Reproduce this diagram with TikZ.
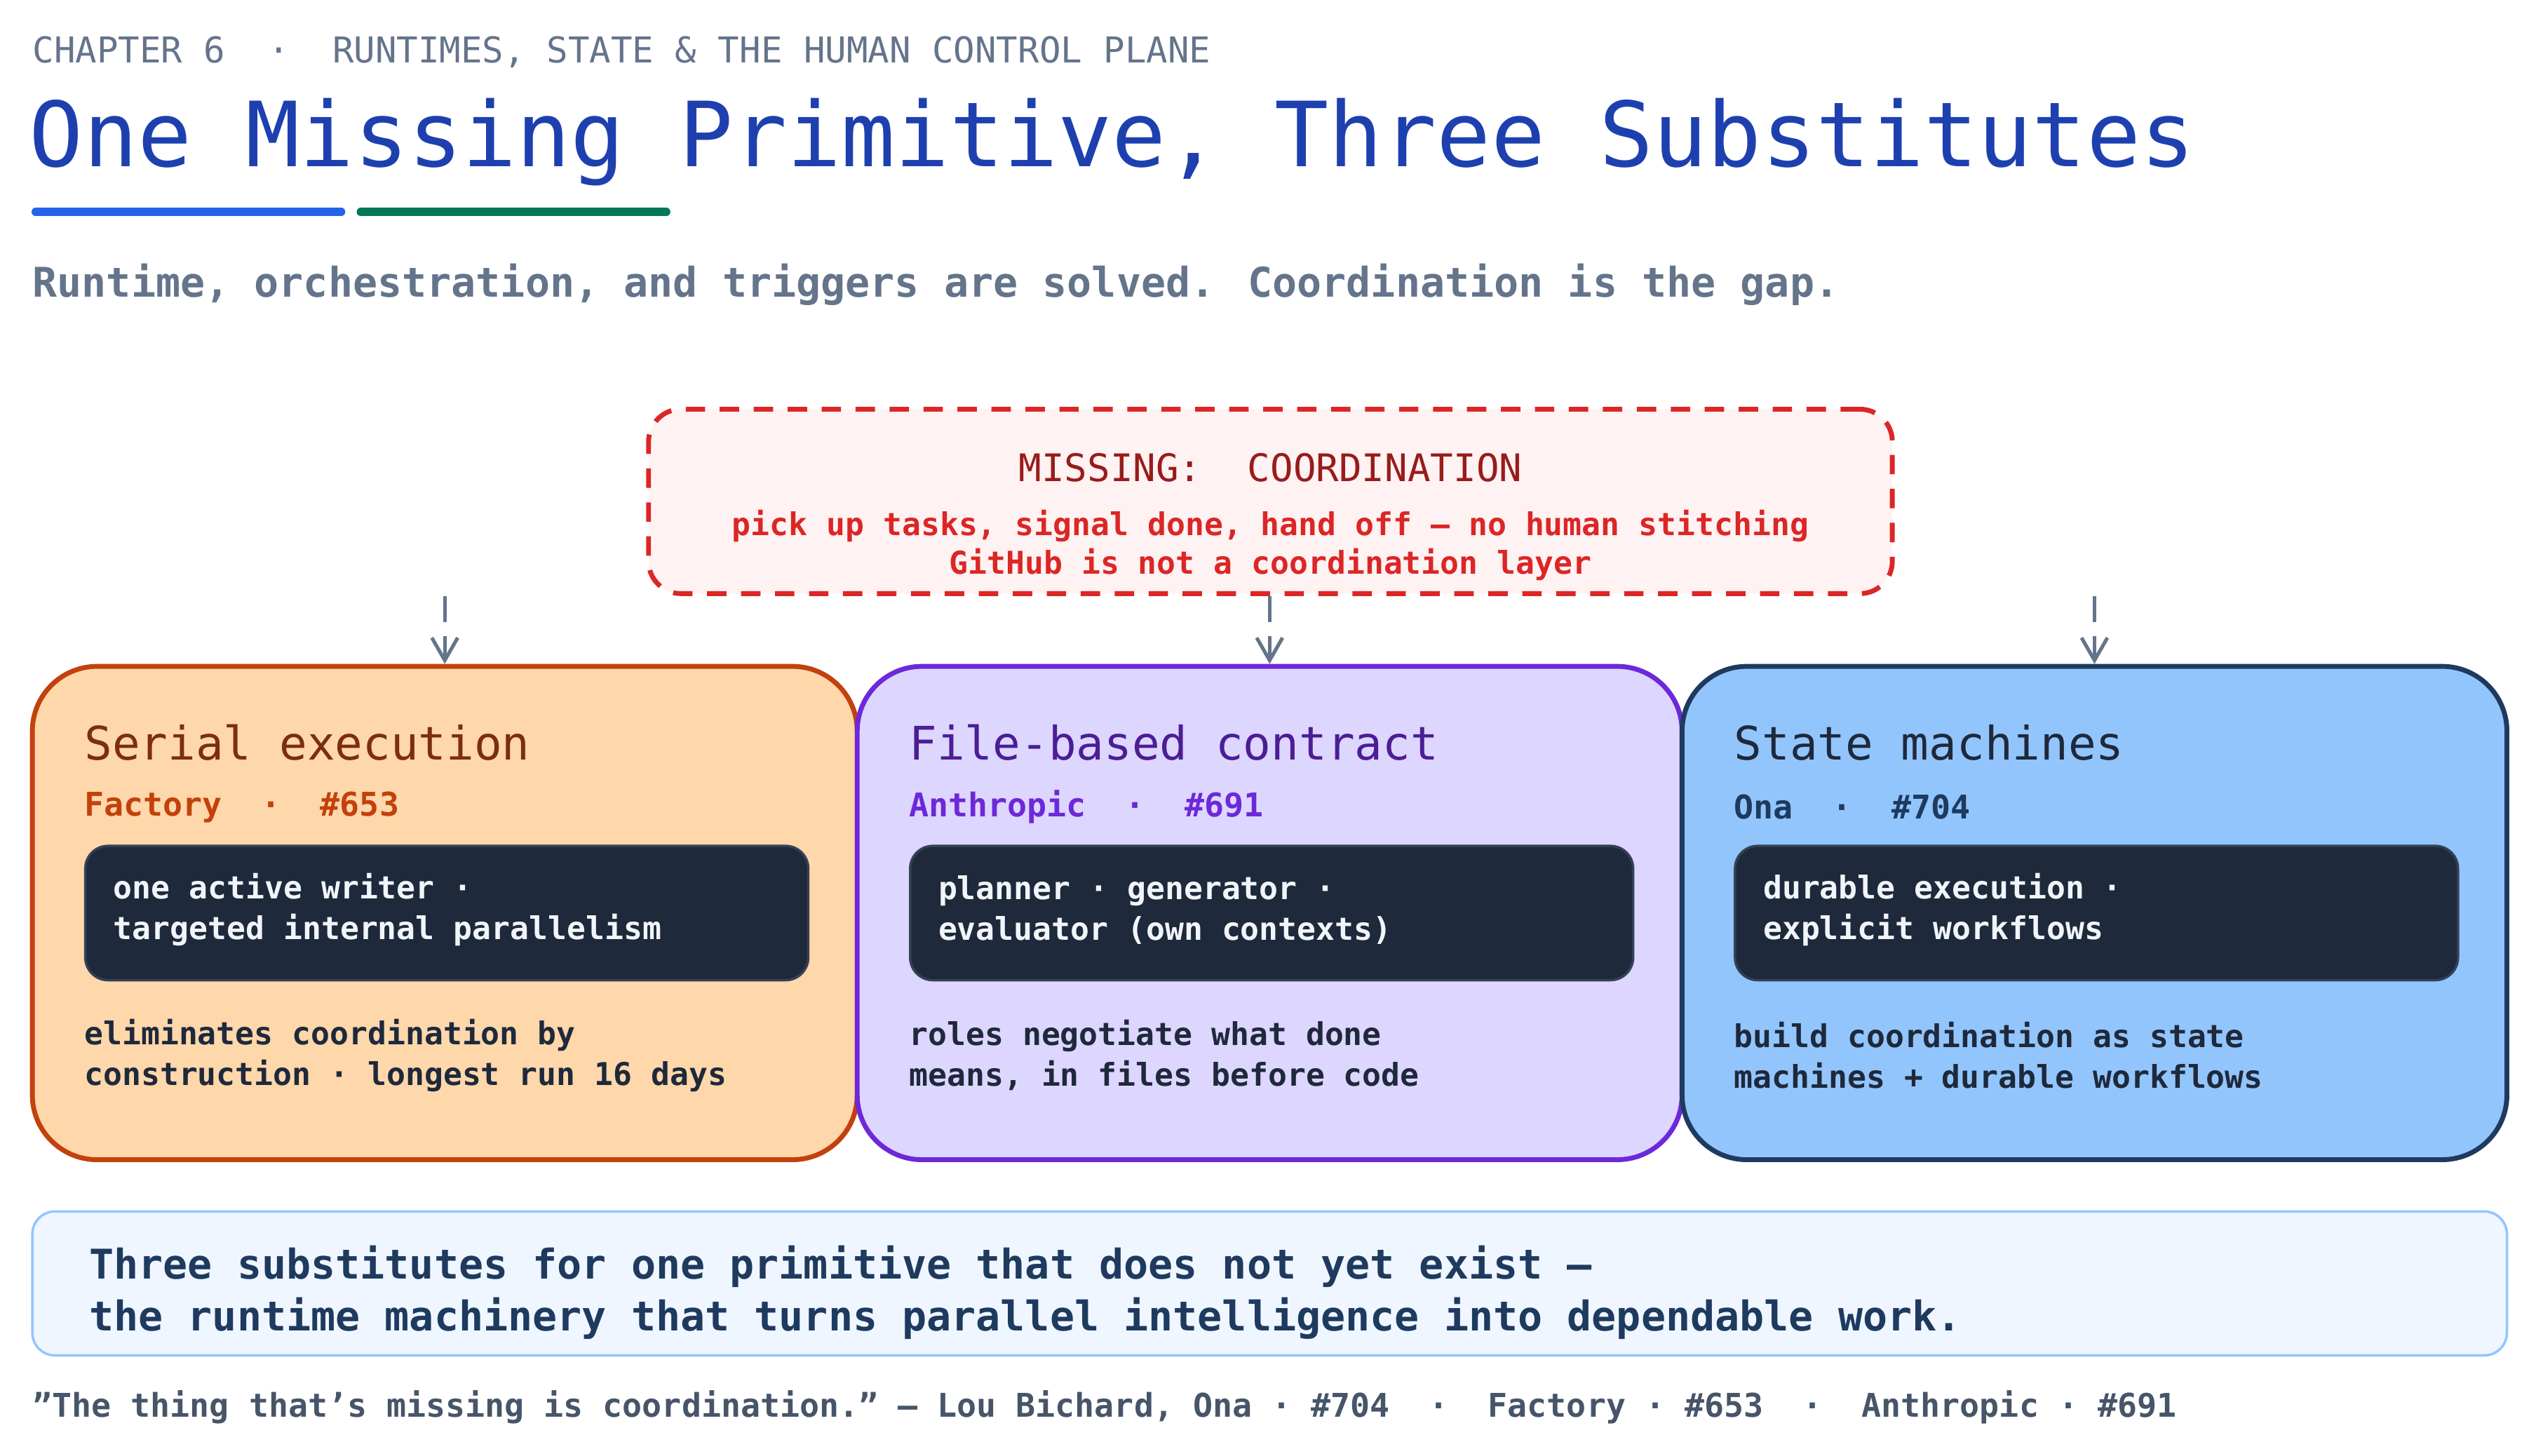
\documentclass[tikz,border=0pt]{standalone}
\usepackage{fontspec}
\setmainfont{DejaVu Sans Mono}
\setmonofont{DejaVu Sans Mono}
\usetikzlibrary{arrows.meta,positioning}

\definecolor{slate}{HTML}{64748B}
\definecolor{titleblue}{HTML}{1E40AF}
\definecolor{ulblue}{HTML}{2563EB}
\definecolor{ulgreen}{HTML}{047857}
\definecolor{missred}{HTML}{DC2626}
\definecolor{missdark}{HTML}{991B1B}
\definecolor{missfill}{HTML}{FEF2F2}
\definecolor{orfill}{HTML}{FED7AA}
\definecolor{ordraw}{HTML}{C2410C}
\definecolor{orhead}{HTML}{7C2D12}
\definecolor{pufill}{HTML}{DDD6FE}
\definecolor{pudraw}{HTML}{6D28D9}
\definecolor{puhead}{HTML}{4C1D95}
\definecolor{blfill}{HTML}{93C5FD}
\definecolor{bldraw}{HTML}{1E3A5F}
\definecolor{blhead}{HTML}{1E293B}
\definecolor{inkdark}{HTML}{1E293B}
\definecolor{inkedge}{HTML}{334155}
\definecolor{chipink}{HTML}{F1F5F9}
\definecolor{banfill}{HTML}{EFF6FF}
\definecolor{bandraw}{HTML}{93C5FD}
\definecolor{banink}{HTML}{1E3A5F}
\definecolor{quoteink}{HTML}{475569}

\tikzset{
	txt/.style={anchor=west, inner sep=0pt, align=left},
	card/.style={rounded corners=40pt, line width=3pt},
	chip/.style={rounded corners=14pt, fill=inkdark, draw=inkedge, line width=1.5pt},
	feed/.style={draw=slate, line width=2.2pt, dash pattern=on 16pt off 9pt,
		-{Straight Barb[length=14pt,width=16pt,line width=2.2pt]}},
}

\begin{document}
\begin{tikzpicture}[x=1pt, y=-1pt]

	\useasboundingbox (0,0) rectangle (1568,900.2);

	% header
	\node[txt, text=slate, font=\fontsize{22}{26}\selectfont] (chapter) at (20,32)
		{CHAPTER 6\ \ ·\ \ RUNTIMES, STATE \& THE HUMAN CONTROL PLANE};
	\node[txt, text=titleblue, font=\fontsize{55.6}{60}\selectfont] (title) at (18,88)
		{One Missing Primitive, Three Substitutes};
	\draw[ulblue, line width=5pt, line cap=round] (22,131) -- (211,131);
	\draw[ulgreen, line width=5pt, line cap=round] (223,131) -- (412,131);
	\node[txt, text=slate, font=\bfseries\fontsize{25.3}{30}\selectfont] (subtitle) at (20,176)
		{Runtime, orchestration, and triggers are solved. Coordination is the gap.};

	% missing primitive
	\node[draw=missred, fill=missfill, line width=3pt, dash pattern=on 12pt off 9pt,
		rounded corners=20pt, minimum width=769pt, minimum height=114pt] (miss) at (785.5,310) {};
	\node[text=missdark, font=\fontsize{23.5}{28}\selectfont, inner sep=0pt] (misshead) at (785.5,289)
		{MISSING:\ \ COORDINATION};
	\node[text=missred, font=\bfseries\fontsize{19.4}{24}\selectfont, inner sep=0pt, align=center] (misstext) at (785.5,337)
		{pick up tasks, signal done, hand off — no human stitching\\GitHub is not a coordination layer};

	% substitutes
	\node[card, draw=ordraw, fill=orfill, minimum width=510pt, minimum height=305pt] (serial) at (275,564.5) {};
	\node[card, draw=pudraw, fill=pufill, minimum width=510pt, minimum height=305pt] (file) at (785,564.5) {};
	\node[card, draw=bldraw, fill=blfill, minimum width=510pt, minimum height=305pt] (state) at (1295,564.5) {};

	\foreach \c/\x/\head/\hc/\sub/\sc/\chiptxt/\body in {
		serial/52/Serial execution/orhead/{Factory\ \ ·\ \ \#653}/ordraw/{one active writer ·\\targeted internal parallelism}/{eliminates coordination by\\construction · longest run 16 days},
		file/562/File-based contract/puhead/{Anthropic\ \ ·\ \ \#691}/pudraw/{planner · generator ·\\evaluator (own contexts)}/{roles negotiate what done\\means, in files before code},
		state/1072/State machines/blhead/{Ona\ \ ·\ \ \#704}/bldraw/{durable execution ·\\explicit workflows}/{build coordination as state\\machines + durable workflows}}
	{
		\node[txt, text=\hc, font=\fontsize{28.6}{32}\selectfont] (\c-head) at (\x,459) {\head};
		\node[txt, text=\sc, font=\bfseries\fontsize{20.2}{24}\selectfont] (\c-sub) at (\x,499) {\sub};
		\node[chip, minimum width=447pt, minimum height=83pt, anchor=west] (\c-chip) at (\x,564.5) {};
		\node[txt, text=chipink, font=\bfseries\fontsize{19.4}{25}\selectfont] (\c-chiptxt) at (\x+18,562.5) {\chiptxt};
		\node[txt, text=inkdark, font=\bfseries\fontsize{19.4}{25}\selectfont] (\c-body) at (\x,652.5) {\body};
	}

	% arrows from the missing layer
	\coordinate (miss-a) at (miss.south -| serial.north);
	\coordinate (miss-b) at (miss.south -| file.north);
	\coordinate (miss-c) at (miss.south -| state.north);
	\draw[feed] (miss-a) -- (serial.north);
	\draw[feed] (miss-b) -- (file.north);
	\draw[feed] (miss-c) -- (state.north);

	% banner
	\node[draw=bandraw, fill=banfill, line width=1.5pt, rounded corners=14pt,
		minimum width=1530pt, minimum height=89pt] (banner) at (785,793.5) {};
	\node[txt, text=banink, font=\bfseries\fontsize{25.3}{32}\selectfont] (bantext) at (55,799)
		{Three substitutes for one primitive that does not yet exist —\\the runtime machinery that turns parallel intelligence into dependable work.};

	% sources
	\node[txt, text=quoteink, font=\bfseries\fontsize{20.2}{24}\selectfont] (quote) at (20,870)
		{"The thing that's missing is coordination." — Lou Bichard, Ona · \#704\ \ ·\ \ Factory · \#653\ \ ·\ \ Anthropic · \#691};

\end{tikzpicture}
\end{document}
